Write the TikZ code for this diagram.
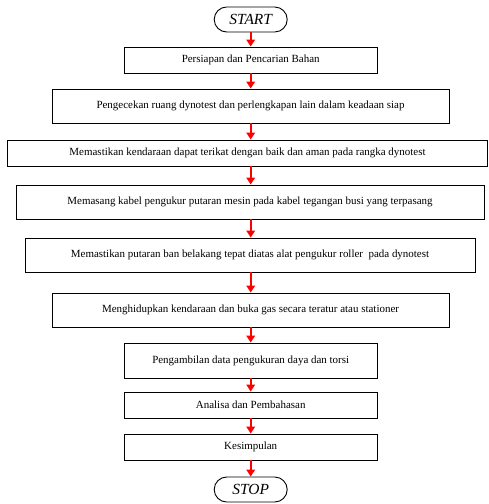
\documentclass[tikz,border=0pt]{standalone}
\usepackage{fontspec}
\setmainfont{Liberation Serif}
\usetikzlibrary{arrows.meta}
\begin{document}
\begin{tikzpicture}[x=1bp,y=-1bp,
  proc/.style={draw=black,line width=0.9bp,minimum height=26bp,inner sep=0pt,font=\fontsize{11}{12}\selectfont},
  term/.style={draw=black,line width=0.9bp,rounded corners=12.5bp,minimum width=73bp,minimum height=25bp,inner sep=0pt,font=\fontsize{15.5}{17}\selectfont\itshape},
  flow/.style={draw=red,line width=2bp,-{Triangle[length=7bp,width=8.5bp]}}]
\useasboundingbox (0,0) rectangle (489,504);
\node[term] (start) at (250.7,19.5) {START};
\node[proc,minimum width=252.5bp] (b1) at (250.7,60) {Persiapan dan Pencarian Bahan};
\node[proc,minimum width=397bp,minimum height=34bp] (b2) at (250.5,106) {Pengecekan ruang dynotest dan perlengkapan lain dalam keadaan siap};
\node[proc,minimum width=480.5bp] (b3) at (247.5,153) {Memastikan kendaraan dapat terikat dengan baik dan aman pada rangka dynotest};
\node[proc,minimum width=468bp,minimum height=34bp] (b4) at (250,202) {Memasang kabel pengukur putaran mesin pada kabel tegangan busi yang terpasang};
\node[proc,minimum width=450bp,minimum height=34bp] (b5) at (250,255) {Memastikan putaran ban belakang tepat diatas alat pengukur roller\ \ pada dynotest};
\node[proc,minimum width=397bp,minimum height=34bp] (b6) at (250.5,310) {Menghidupkan kendaraan dan buka gas secara teratur atau stationer};
\node[proc,minimum width=252.5bp,minimum height=35bp] (b7) at (250.7,360.5) {Pengambilan data pengukuran daya dan torsi};
\node[proc,minimum width=252.5bp] (b8) at (250.7,405) {Analisa dan Pembahasan};
\node[proc,minimum width=252.5bp] (b9) at (250.7,447) {Kesimpulan};
\node[term] (stop) at (250.7,489.5) {STOP};
\foreach \a/\b in {start/b1,b1/b2,b2/b3,b3/b4,b4/b5,b5/b6,b6/b7,b7/b8,b8/b9,b9/stop}
  \draw[flow] (\a.south -| start.south) -- (\b.north -| start.south);
\end{tikzpicture}
\end{document}
